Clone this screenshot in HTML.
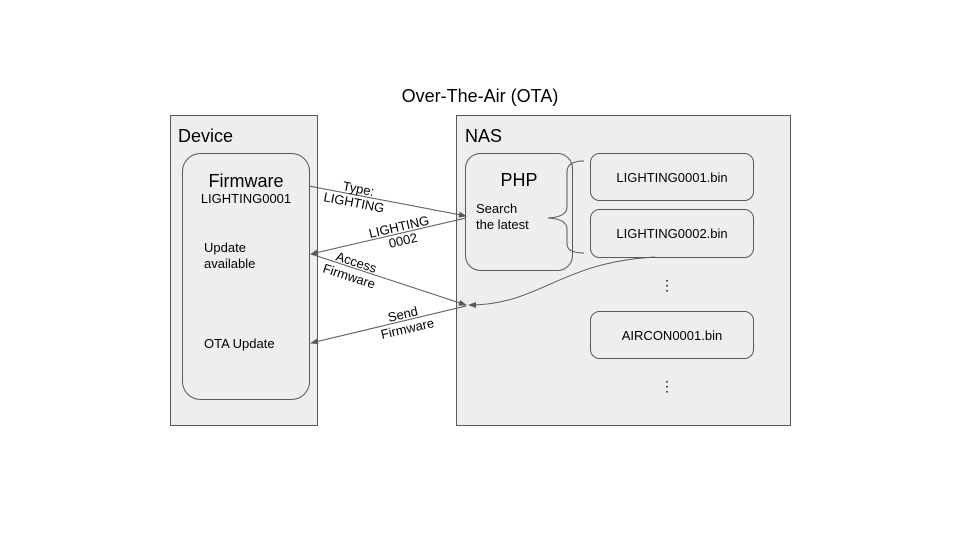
<!DOCTYPE html>
<html><head><meta charset="utf-8"><style>
body{margin:0;background:#fff;}
svg text{font-family:"Liberation Sans",Arial,sans-serif;fill:#000;}
</style></head><body>
<svg width="960" height="540" viewBox="0 0 960 540" xmlns="http://www.w3.org/2000/svg">
<defs><marker id="a" markerWidth="8" markerHeight="8" refX="7" refY="4" orient="auto" markerUnits="userSpaceOnUse"><path d="M0,1 L8,4 L0,7 Z" fill="#595959"/></marker></defs>
<text x="480" y="102" font-size="18" text-anchor="middle">Over-The-Air (OTA)</text>
<rect x="170.5" y="115.5" width="147" height="310" fill="#eeeeee" stroke="#595959"/>
<text x="178" y="142" font-size="18">Device</text>
<rect x="456.5" y="115.5" width="334" height="310" fill="#eeeeee" stroke="#595959"/>
<text x="465" y="142" font-size="18">NAS</text>
<rect x="182.5" y="153.5" width="127" height="246" rx="18" fill="#eeeeee" stroke="#595959"/>
<text x="246" y="187" font-size="18" text-anchor="middle">Firmware</text>
<text x="246" y="203" font-size="13" text-anchor="middle">LIGHTING0001</text>
<text x="204" y="252" font-size="13">Update</text>
<text x="204" y="268" font-size="13">available</text>
<text x="204" y="348" font-size="13">OTA Update</text>
<rect x="465.5" y="153.5" width="107" height="117" rx="15" fill="#eeeeee" stroke="#595959"/>
<text x="519" y="186" font-size="18" text-anchor="middle">PHP</text>
<text x="476" y="213" font-size="13">Search</text>
<text x="476" y="229" font-size="13">the latest</text>
<rect x="590.5" y="153.5" width="163" height="47" rx="9" fill="#eeeeee" stroke="#595959"/>
<text x="672" y="182" font-size="13" text-anchor="middle">LIGHTING0001.bin</text>
<rect x="590.5" y="209.5" width="163" height="48" rx="9" fill="#eeeeee" stroke="#595959"/>
<text x="672" y="238" font-size="13" text-anchor="middle">LIGHTING0002.bin</text>
<text x="667" y="290" font-size="14" text-anchor="middle">⋮</text>
<rect x="590.5" y="311.5" width="163" height="47" rx="9" fill="#eeeeee" stroke="#595959"/>
<text x="672" y="340" font-size="13" text-anchor="middle">AIRCON0001.bin</text>
<text x="667" y="391" font-size="14" text-anchor="middle">⋮</text>
<path d="M584,161 Q567,161 567,172 L567,207 Q567,217 548,218 Q567,219 567,229 L567,244 Q567,253 584,253" fill="none" stroke="#595959"/>
<g stroke="#595959" stroke-width="1" fill="none">
<line x1="309" y1="186" x2="466" y2="216" marker-end="url(#a)"/>
<line x1="466" y1="218" x2="311" y2="254" marker-end="url(#a)"/>
<line x1="311" y1="254" x2="466" y2="305" marker-end="url(#a)"/>
<line x1="466" y1="306" x2="311" y2="343" marker-end="url(#a)"/>
<path d="M655,257 C560,262 540,305 469,305" marker-end="url(#a)"/>
</g>
<text font-size="13" transform="translate(342,190) rotate(11)">Type:</text>
<text font-size="13" transform="translate(323,201) rotate(11)">LIGHTING</text>
<text font-size="13" transform="translate(370,238) rotate(-13)">LIGHTING</text>
<text font-size="13" transform="translate(390,248) rotate(-13)">0002</text>
<text font-size="13" transform="translate(335,260) rotate(18)">Access</text>
<text font-size="13" transform="translate(322,272) rotate(18)">Firmware</text>
<text font-size="13" transform="translate(389,322) rotate(-13)">Send</text>
<text font-size="13" transform="translate(382,339) rotate(-13)">Firmware</text>
</svg>
</body></html>
